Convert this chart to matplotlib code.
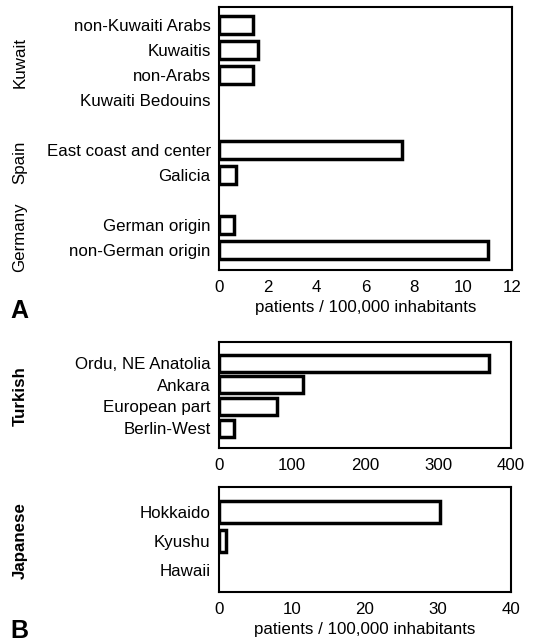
import matplotlib
matplotlib.use('Agg')
import matplotlib.pyplot as plt
import matplotlib.transforms as mtransforms

plt.rcParams['font.family'] = ['Liberation Sans', 'DejaVu Sans']

# Panel A: incidence per group
a_groups = ['Kuwait', 'Spain', 'Germany']
a_labels = [
    ['non-Kuwaiti Arabs', 'Kuwaitis', 'non-Arabs', 'Kuwaiti Bedouins'],
    ['East coast and center', 'Galicia'],
    ['German origin', 'non-German origin'],
]
a_values = [
    [1.4, 1.6, 1.4, 0.0],
    [7.5, 0.7],
    [0.6, 11.0],
]

# Panel B, top: Turkish
turk_labels = ['Ordu, NE Anatolia', 'Ankara', 'European part', 'Berlin-West']
turk_values = [370, 115, 80, 20]

# Panel B, bottom: Japanese
jap_labels = ['Hokkaido', 'Kyushu', 'Hawaii']
jap_values = [30.3, 0.9, 0.0]

W, H = 538, 644
FS = 12.2
fig = plt.figure(figsize=(W / 100, H / 100), dpi=100)


def px_axes(left, top, right, bottom):
    return fig.add_axes([left / W, 1 - bottom / H, (right - left) / W, (bottom - top) / H])


def bars(ax, ys, vals, height):
    # zero-valued rows have no bar at all in the original
    edges = ['black' if v > 0 else 'none' for v in vals]
    ax.barh(ys, vals, height=height, color='white', edgecolor=edges, linewidth=2.5)


def style(ax, xmax, xticks):
    ax.set_xlim(0, xmax)
    ax.set_xticks(xticks)
    ax.tick_params(axis='both', length=0, labelsize=FS)
    ax.tick_params(axis='x', pad=7)
    ax.tick_params(axis='y', pad=6)
    for s in ax.spines.values():
        s.set_linewidth(1.5)


def group_label(ax, text, y, bold=False):
    tr = mtransforms.blended_transform_factory(fig.transFigure, ax.transData)
    ax.text(20 / W, y, text, transform=tr, rotation=90, ha='center', va='center',
            fontsize=FS, fontweight='bold' if bold else 'normal')


# ---- Panel A
axA = px_axes(219, 7, 512, 270)
pos = 0
ticks, tlabels = [], []
for g, labs, vals in zip(a_groups, a_labels, a_values):
    ys = list(range(pos, pos + len(labs)))
    bars(axA, ys, vals, 0.72)
    ticks += ys
    tlabels += labs
    group_label(axA, g, (ys[0] + ys[-1]) / 2)
    pos += len(labs) + 1
axA.set_yticks(ticks)
axA.set_yticklabels(tlabels)
axA.set_ylim(ticks[-1] + 0.8, -0.72)
style(axA, 12, range(0, 13, 2))
axA.set_xlabel('patients / 100,000 inhabitants', fontsize=FS, labelpad=4)

# ---- Panel B top
axT = px_axes(219, 342, 511, 448)
yt = list(range(len(turk_labels)))
bars(axT, yt, turk_values, 0.78)
axT.set_yticks(yt)
axT.set_yticklabels(turk_labels)
axT.set_ylim(3.92, -0.98)
style(axT, 400, range(0, 401, 100))
group_label(axT, 'Turkish', 1.5, bold=True)

# ---- Panel B bottom
axJ = px_axes(219, 487, 511, 592)
yj = list(range(len(jap_labels)))
bars(axJ, yj, jap_values, 0.78)
axJ.set_yticks(yj)
axJ.set_yticklabels(jap_labels)
axJ.set_ylim(2.76, -0.86)
style(axJ, 40, range(0, 41, 10))
axJ.set_xlabel('patients / 100,000 inhabitants', fontsize=FS, labelpad=4)
group_label(axJ, 'Japanese', 1, bold=True)

fig.text(10 / W, 1 - 311 / H, 'A', fontsize=18, fontweight='bold', va='center', ha='left')
fig.text(10 / W, 1 - 631 / H, 'B', fontsize=18, fontweight='bold', va='center', ha='left')

fig.savefig('out.png', dpi=100)
